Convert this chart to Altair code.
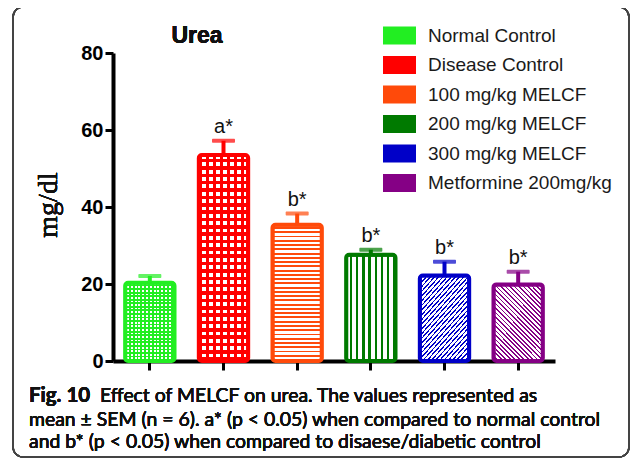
import altair as alt
import pandas as pd

groups = ["Normal Control", "Disease Control", "100 mg/kg MELCF",
          "200 mg/kg MELCF", "300 mg/kg MELCF", "Metformine 200mg/kg"]
means = [20.3, 53.5, 35.4, 27.6, 22.2, 19.9]
upper = [22.1, 57.2, 38.3, 28.9, 25.8, 23.2]
sig = ["", "a*", "b*", "b*", "b*", "b*"]
colors = ["#22ee22", "#ff0000", "#ff4a0a", "#007a00", "#0000c8", "#850085"]

df = pd.DataFrame({"group": groups, "mean": means, "upper": upper, "sig": sig})

CLEAR = "rgba(255,255,255,0)"


def stripes(n, c_on, c_off, frac, x2=0, y2=1, x1=0, y1=0):
    stops = []
    for i in range(n):
        a = i / n
        b = (i + frac) / n
        c = (i + 1) / n
        stops += [{"offset": a, "color": c_on}, {"offset": b, "color": c_on},
                  {"offset": b, "color": c_off}, {"offset": c, "color": c_off}]
    return {"gradient": "linear", "x1": x1, "y1": y1, "x2": x2, "y2": y2, "stops": stops}


x_enc = alt.X("group:N", sort=groups,
              scale=alt.Scale(paddingInner=0.33, paddingOuter=0.165),
              axis=alt.Axis(labels=False, title=None, domainWidth=4, domainColor="black",
                            tickWidth=3, tickSize=9, tickColor="black", grid=False))
y_enc = alt.Y("mean:Q", scale=alt.Scale(domain=[0, 80], nice=False),
              axis=alt.Axis(values=[0, 20, 40, 60, 80], title=None, grid=False,
                            domainWidth=4, domainColor="black", tickWidth=3, tickSize=8,
                            tickColor="black", labelFont="Liberation Sans",
                            labelFontWeight="bold", labelFontSize=20, labelColor="black",
                            labelPadding=2))

base = alt.Chart(df)

fill_scale = alt.Scale(domain=groups, range=colors)

bars = base.mark_bar(cornerRadius=3).encode(
    x=x_enc, y=y_enc,
    fill=alt.Fill("group:N", sort=groups, scale=fill_scale,
                  legend=alt.Legend(title=None, orient="none", legendX=270, legendY=-34,
                                    symbolType="M-1,-0.55H1V0.55H-1Z", symbolSize=1089,
                                    symbolStrokeWidth=0, symbolOpacity=1,
                                    labelFont="Liberation Sans", labelFontSize=19,
                                    labelColor="#1a1a1a", labelOffset=12, rowPadding=2.5,
                                    labelLimit=300, padding=0)),
)


def overlay(gname, grad):
    return base.transform_filter(alt.datum.group == gname).mark_bar(
        fill=grad, strokeWidth=0).encode(x=alt.X("group:N", sort=groups), y="mean:Q")


overlays = [
    # Normal control: fine checks
    overlay(groups[0], stripes(22, "white", CLEAR, 0.5)),
    overlay(groups[0], stripes(13, colors[0], CLEAR, 0.5, x2=1, y2=0)),
    # Disease control: larger checks
    overlay(groups[1], stripes(28, "white", CLEAR, 0.52)),
    overlay(groups[1], stripes(7, colors[1], CLEAR, 0.45, x2=1, y2=0)),
    # 100 mg/kg: horizontal lines
    overlay(groups[2], stripes(32, "#ffffff", colors[2], 0.55)),
    # 200 mg/kg: vertical lines
    overlay(groups[3], stripes(8, "#ffffff", colors[3], 0.6, x2=1, y2=0)),
    # 300 mg/kg: diagonal ////
    overlay(groups[4], stripes(30, "#ffffff", colors[4], 0.62, x1=0, y1=0, x2=0.754, y2=1.16)),
    # Metformine: diagonal \\\\
    overlay(groups[5], stripes(28, "#ffffff", colors[5], 0.62, x1=1, y1=0, x2=0.246, y2=1.16)),
]

outline = base.mark_bar(cornerRadius=3, filled=False, strokeWidth=4).encode(
    x=alt.X("group:N", sort=groups), y="mean:Q",
    stroke=alt.Stroke("group:N", sort=groups, scale=fill_scale, legend=None),
)

err = base.mark_rule(strokeWidth=4).encode(
    x=alt.X("group:N", sort=groups), y="mean:Q", y2="upper:Q",
    stroke=alt.Stroke("group:N", sort=groups, scale=fill_scale, legend=None),
)

cap = base.mark_tick(thickness=4, size=23, cornerRadius=1).encode(
    x=alt.X("group:N", sort=groups), y="upper:Q",
    fill=alt.Fill("group:N", sort=groups, scale=fill_scale, legend=None),
)

labels = base.mark_text(font="Liberation Sans", fontSize=20, dy=-8, baseline="alphabetic",
                        color="#111").encode(
    x=alt.X("group:N", sort=groups), y="upper:Q", text="sig:N")

title = base.mark_text(text="Urea", font="Liberation Sans", fontSize=23, fontWeight="bold",
                       align="center", baseline="alphabetic", color="#111").encode(
    x=alt.value(84), y=alt.value(-10))

ytitle = base.mark_text(text="mg/dl", font="Liberation Serif", fontSize=28, angle=270,
                        align="center", baseline="middle", color="#111").encode(
    x=alt.value(-64), y=alt.value(152))

frame = base.mark_rect(fill=None, stroke="#444", strokeWidth=1.5, cornerRadius=10).encode(
    x=alt.value(-100), x2=alt.value(516), y=alt.value(-46), y2=alt.value(404))

cap_font = "Lato"
cap1a = base.mark_text(text="Fig. 10", font=cap_font, fontSize=20.5, fontWeight="bold",
                       align="left", baseline="alphabetic", color="#111").encode(
    x=alt.value(-84), y=alt.value(349))
cap1b = base.mark_text(text="Effect of MELCF on urea. The values represented as",
                       font=cap_font, fontSize=19.4, align="left", baseline="alphabetic",
                       color="#111").encode(x=alt.value(-13), y=alt.value(349))
cap2 = base.mark_text(text="mean \u00b1 SEM (n = 6). a* (p < 0.05) when compared to normal control",
                      font=cap_font, fontSize=19.4, align="left", baseline="alphabetic",
                      color="#111").encode(x=alt.value(-84), y=alt.value(373))
cap3 = base.mark_text(text="and b* (p < 0.05) when compared to disaese/diabetic control",
                      font=cap_font, fontSize=19.4, align="left", baseline="alphabetic",
                      color="#111").encode(x=alt.value(-84), y=alt.value(395))

chart = alt.layer(bars, *overlays, outline, err, cap, labels, title, ytitle, frame,
                  cap1a, cap1b, cap2, cap3).properties(
    width=442, height=308,
    padding={"left": 105, "top": 45, "right": 75, "bottom": 98},
    autosize=alt.AutoSizeParams(type="none"),
).configure_view(stroke=None)

chart.save("out.html", embed_options={"renderer": "svg", "actions": False})
